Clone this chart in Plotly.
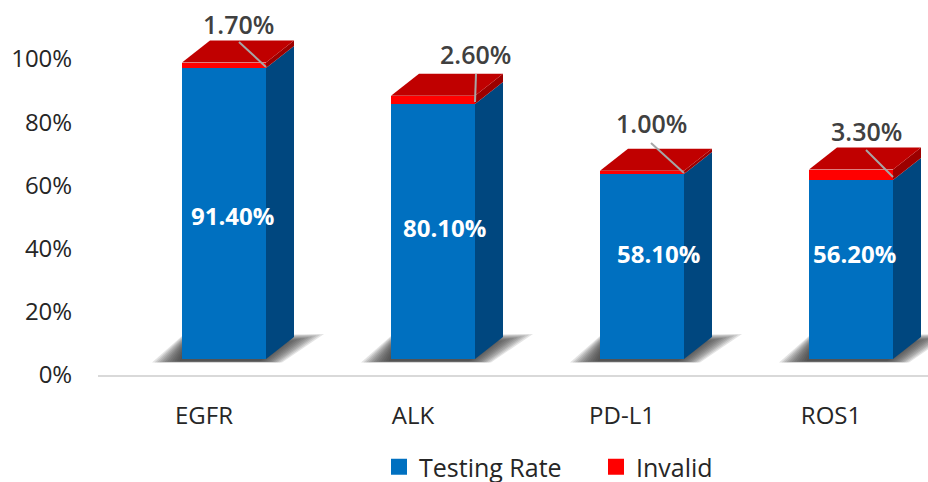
import plotly.graph_objects as go

# ---- data ----
categories = ["EGFR", "ALK", "PD-L1", "ROS1"]
testing_rate = [91.4, 80.1, 58.1, 56.2]
invalid = [1.7, 2.6, 1.0, 3.3]
tick_values = [0, 20, 40, 60, 80, 100]
tick_labels = ["0%", "20%", "40%", "60%", "80%", "100%"]

# ---- annotation placement, target pixels ----
rate_label_px = [(232, 215), (444, 227), (658, 253), (854, 253)]
invalid_label_px = [(238, 24), (475, 54), (651, 123), (866, 131)]
leader_start_px = [(239, 42), (476, 74), (651, 143), (866, 150)]
leader_end_offset_px = [(0, 1), (0, 2), (0, 1), (0, 3)]

# ---- geometry ----
W, H = 928, 482
PLOT_L, PLOT_R, PLOT_T, PLOT_B = 98, 928, 0, 375
CAT0_PX, CAT_STEP = 204, 209
PX_PER_PCT_AXIS = 3.16
PX_PER_PCT_BAR = 3.184
FLOOR_PX = 359
BAR_W_PX, BAR_SHIFT_PX = 84, 20
DEPTH_X_PX, DEPTH_Y_PX = 28, 22

BLUE, BLUE_SIDE = "#0070C0", "#00477F"
RED, RED_TOP, RED_SIDE = "#FF0000", "#C00000", "#9C0000"


def ux(px):
    return (px - CAT0_PX) / CAT_STEP


def uy(px):
    return (PLOT_B - px) / PX_PER_PCT_AXIS


def uy2(px):
    return (FLOOR_PX - px) / PX_PER_PCT_BAR


DX = DEPTH_X_PX / CAT_STEP
DY = DEPTH_Y_PX / PX_PER_PCT_BAR
BW = BAR_W_PX / CAT_STEP
SHIFT = BAR_SHIFT_PX / CAT_STEP
xs = [i + SHIFT for i in range(len(categories))]

fig = go.Figure()


def poly(px_, py_, color, axis="y2"):
    fig.add_trace(go.Scatter(
        x=px_, y=py_, xaxis="x", yaxis=axis, mode="lines", fill="toself",
        fillcolor=color, line=dict(width=0), hoverinfo="skip", showlegend=False))


# floor shadows on the main subplot so the bars sit above them; layered for the soft edge
for cx in xs:
    left_px = CAT0_PX + CAT_STEP * (cx - BW / 2)
    right_px = CAT0_PX + CAT_STEP * (cx + BW / 2)
    for k in range(12):
        s = k * 2.5
        poly([ux(left_px - 30 + s), ux(left_px + s * 0.2),
              ux(right_px + DEPTH_X_PX + 30 - s * 1.5), ux(right_px + 16 - s * 0.8)],
             [uy(362.5 - k * 0.12), uy(FLOOR_PX - DEPTH_Y_PX - 1 + k * 0.6),
              uy(FLOOR_PX - DEPTH_Y_PX - 3 + k * 0.8), uy(362.5 - k * 0.12)],
             "rgba(50,50,50,0.13)", axis="y")

# side and top faces
for cx, blue, red in zip(xs, testing_rate, invalid):
    left = cx - BW / 2
    right = cx + BW / 2
    total = blue + red
    poly([right, right + DX, right + DX, right], [0, DY, blue + DY, blue], BLUE_SIDE)
    poly([right, right + DX, right + DX, right], [blue, blue + DY, total + DY, total], RED_SIDE)
    poly([left, right, right + DX, left + DX], [total, total, total + DY, total + DY], RED_TOP)

# front faces
fig.add_trace(go.Bar(x=xs, y=testing_rate, width=BW, yaxis="y2", marker=dict(color=BLUE, line=dict(width=0)),
                     name="Testing Rate", showlegend=False))
fig.add_trace(go.Bar(x=xs, y=invalid, width=BW, yaxis="y2", marker=dict(color=RED, line=dict(width=0)),
                     name="Invalid", showlegend=False))

# leader lines
for cx, blue, (sx, sy), (ox, oy) in zip(xs, testing_rate, leader_start_px, leader_end_offset_px):
    right = cx + BW / 2
    fig.add_trace(go.Scatter(
        x=[ux(sx), right + ox / CAT_STEP], y=[uy2(sy), blue + oy / PX_PER_PCT_BAR],
        xaxis="x", yaxis="y2", mode="lines", line=dict(color="#A6A6A6", width=2),
        hoverinfo="skip", showlegend=False))

# legend entries
for name, color in (("Testing Rate", BLUE), ("Invalid", RED)):
    fig.add_trace(go.Scatter(x=[None], y=[None], mode="markers", name=name,
                             marker=dict(symbol="square", size=16, color=color)))

annotations = []
for txt, (px_, py_) in zip(testing_rate, rate_label_px):
    annotations.append(dict(x=ux(px_), y=uy2(py_), xref="x", yref="y2", text=f"<b>{txt:.2f}%</b>",
                            showarrow=False, font=dict(color="#FFFFFF", size=24)))
for txt, (px_, py_) in zip(invalid, invalid_label_px):
    annotations.append(dict(x=ux(px_), y=uy2(py_), xref="x", yref="y2", text=f"{txt:.2f}%",
                            showarrow=False, font=dict(color="#404040", size=25, weight=600)))

FONT = "Open Sans"
fig.update_layout(
    width=W, height=H,
    margin=dict(l=PLOT_L, r=W - PLOT_R, t=PLOT_T, b=H - PLOT_B, pad=0, autoexpand=False),
    paper_bgcolor="white", plot_bgcolor="white",
    font=dict(family=FONT, size=24, color="#262626"),
    barmode="stack", hovermode=False,
    xaxis=dict(range=[ux(PLOT_L), ux(PLOT_R)], tickmode="array",
               tickvals=list(range(len(categories))), ticktext=categories,
               showgrid=False, zeroline=False, showline=True, linecolor="#D9D9D9", linewidth=2,
               ticks="outside", ticklen=18, tickcolor="rgba(0,0,0,0)", tickfont=dict(size=24)),
    yaxis=dict(range=[0, (PLOT_B - PLOT_T) / PX_PER_PCT_AXIS], tickmode="array",
               tickvals=tick_values, ticktext=tick_labels, showgrid=False, zeroline=False,
               showline=False, ticks="outside", ticklen=20, tickcolor="rgba(0,0,0,0)", tickfont=dict(size=24)),
    yaxis2=dict(range=[uy2(PLOT_B), uy2(PLOT_T)], overlaying="y", side="left", visible=False),
    legend=dict(orientation="h", x=(379 - PLOT_L) / (PLOT_R - PLOT_L), y=(PLOT_B - 444) / (PLOT_B - PLOT_T),
                xanchor="left", yanchor="top", traceorder="normal", entrywidth=172, entrywidthmode="pixels",
                itemsizing="trace", font=dict(size=25), bgcolor="rgba(0,0,0,0)", itemwidth=30),
    annotations=annotations,
)
fig.write_html("out.html", config=dict(displayModeBar=False, staticPlot=True),
               post_script="document.body.style.margin='0';")
